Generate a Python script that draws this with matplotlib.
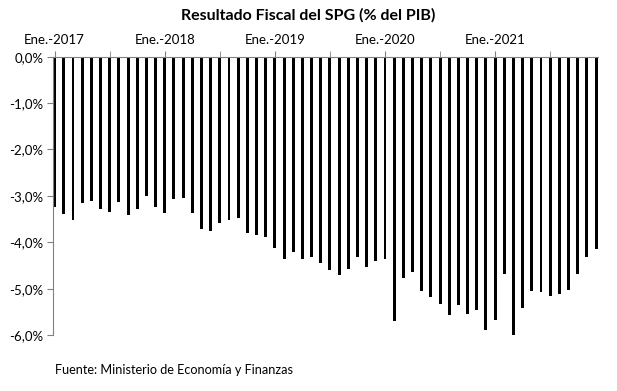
import matplotlib.pyplot as plt
from matplotlib.ticker import FixedLocator, FuncFormatter
import numpy as np

# monthly fiscal result of the SPG, % of GDP, Jan 2017 - Dec 2021
meses = [f"{m}-{a}" for a in range(2017, 2022) for m in range(1, 13)]
valores = [
    -3.23, -3.39, -3.51, -3.16, -3.10, -3.29, -3.35, -3.13, -3.41, -3.28, -3.00, -3.25,
    -3.37, -3.07, -3.04, -3.37, -3.71, -3.76, -3.59, -3.51, -3.47, -3.81, -3.84, -3.88,
    -4.12, -4.37, -4.22, -4.36, -4.32, -4.45, -4.60, -4.71, -4.58, -4.31, -4.53, -4.40,
    -4.36, -5.70, -4.76, -4.64, -5.04, -5.17, -5.33, -5.57, -5.35, -5.55, -5.46, -5.88,
    -5.68, -4.69, -6.02, -5.42, -5.05, -5.07, -5.16, -5.11, -5.03, -4.69, -4.32, -4.15,
]
etiquetas = ["Ene.-2017", "Ene.-2018", "Ene.-2019", "Ene.-2020", "Ene.-2021"]

plt.rcParams['font.family'] = ['Lato', 'DejaVu Sans']

fig = plt.figure(figsize=(6.17, 3.91), dpi=100)
ax = fig.add_axes([0.086, 0.143, 0.883, 0.712])

x = np.arange(len(valores))
ax.bar(x, valores, width=0.32, color='black')

ax.set_xlim(-0.17, len(valores) - 0.8)
ax.set_ylim(-6, 0)

ax.xaxis.tick_top()
ax.xaxis.set_major_locator(FixedLocator(range(0, 60, 12)))
ax.xaxis.set_minor_locator(FixedLocator(range(6, 60, 12)))
ax.set_xticklabels(etiquetas, fontsize=9.5)
ax.tick_params(axis='x', which='both', direction='out', length=4, color='#808080', pad=4)

ax.set_yticks(np.arange(-6, 0.1, 1))
ax.yaxis.set_major_formatter(FuncFormatter(lambda v, p: f"{v:.1f}%".replace('.', ',').replace('-0,0', '0,0')))
ax.tick_params(axis='y', direction='out', length=4, color='#808080', labelsize=9.5, pad=3)

for s in ['right', 'bottom']:
    ax.spines[s].set_visible(False)
ax.spines['top'].set_color('#808080')
ax.spines['left'].set_color('#808080')

fig.text(0.5, 0.962, "Resultado Fiscal del SPG (% del PIB)", ha='center', va='center',
         fontsize=11.5, fontweight='bold')
fig.text(0.089, 0.053, "Fuente: Ministerio de Economía y Finanzas", ha='left', va='center',
         fontsize=9.1)

fig.savefig('out.png', dpi=100)
